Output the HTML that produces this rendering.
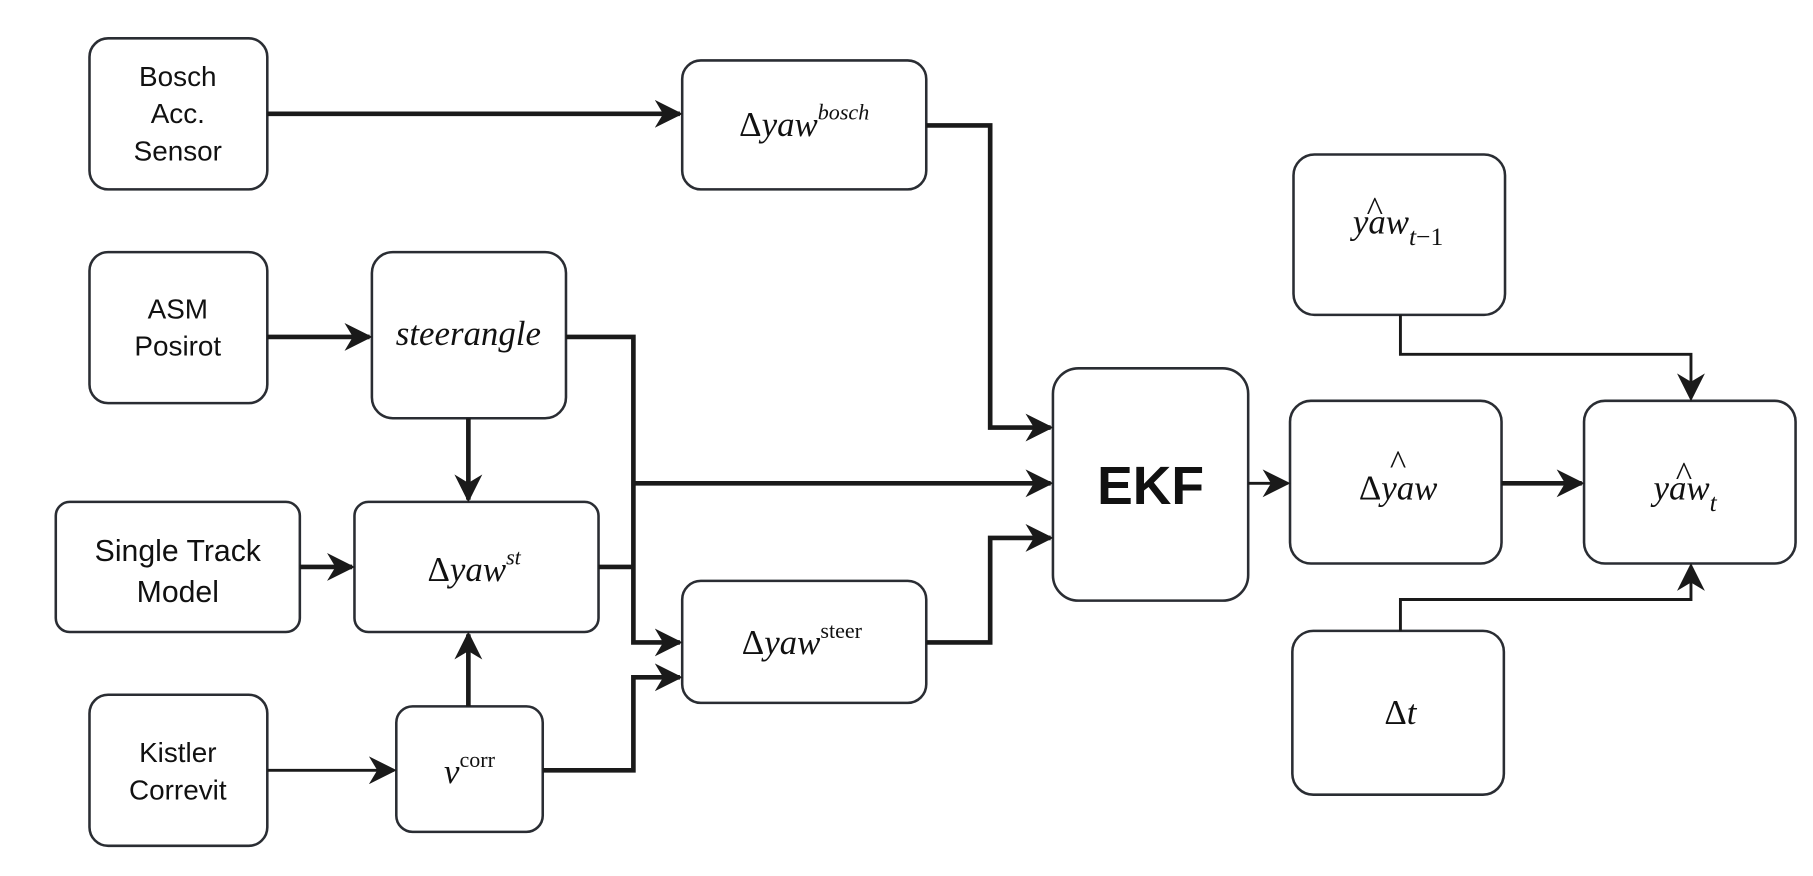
<!DOCTYPE html>
<html><head><meta charset="utf-8"><style>
html,body{margin:0;padding:0;background:#fff;}
svg{display:block}
.b{fill:#fff;stroke:#2a2d33;stroke-width:2.2}
.l{fill:none;stroke:#1a1a1a;stroke-width:4}
.t{fill:none;stroke:#1a1a1a;stroke-width:2.5}
.s{font-family:"Liberation Sans",sans-serif;font-size:24px;fill:#111;text-anchor:middle}
.m{font-family:"Liberation Serif",serif;font-size:30px;fill:#111;text-anchor:middle}
</style></head><body>
<svg width="1813" height="876" viewBox="0 0 1560 754" preserveAspectRatio="none" xmlns="http://www.w3.org/2000/svg">
<defs>
<marker id="a" viewBox="0 0 10 10" refX="9" refY="5" markerWidth="6" markerHeight="6" markerUnits="userSpaceOnUse" orient="auto"><path d="M0,0 L10,5 L0,10 L3,5z" fill="#1a1a1a"/></marker>
<marker id="A" viewBox="0 0 10 10" refX="9" refY="5" markerWidth="24" markerHeight="24" markerUnits="userSpaceOnUse" orient="auto"><path d="M0,0 L10,5 L0,10 L3,5z" fill="#1a1a1a"/></marker>
</defs>
<rect class="b" x="77" y="33" width="153" height="130" rx="16"/>
<rect class="b" x="587" y="52" width="210" height="111" rx="16"/>
<rect class="b" x="77" y="217" width="153" height="130" rx="16"/>
<rect class="b" x="320" y="217" width="167" height="143" rx="18"/>
<rect class="b" x="48" y="432" width="210" height="112" rx="12"/>
<rect class="b" x="305" y="432" width="210" height="112" rx="12"/>
<rect class="b" x="77" y="598" width="153" height="130" rx="16"/>
<rect class="b" x="341" y="608" width="126" height="108" rx="14"/>
<rect class="b" x="587" y="500" width="210" height="105" rx="16"/>
<rect class="b" x="906" y="317" width="168" height="200" rx="22"/>
<rect class="b" x="1110" y="345" width="182" height="140" rx="18"/>
<rect class="b" x="1113" y="133" width="182" height="138" rx="18"/>
<rect class="b" x="1363" y="345" width="182" height="140" rx="18"/>
<rect class="b" x="1112" y="543" width="182" height="141" rx="18"/>
<path class="l" d="M230,98 H585" marker-end="url(#A)"/>
<path class="l" d="M797,108 H852 V368 H904" marker-end="url(#A)"/>
<path class="l" d="M230,290 H318" marker-end="url(#A)"/>
<path class="l" d="M487,290 H545 V553 H585" marker-end="url(#A)"/>
<path class="l" d="M545,416 H904" marker-end="url(#A)"/>
<path class="l" d="M403,360 V430" marker-end="url(#A)"/>
<path class="l" d="M258,488 H303" marker-end="url(#A)"/>
<path class="l" d="M515,488 H545"/>
<path class="t" d="M230,663 H339" marker-end="url(#A)"/>
<path class="l" d="M403,608 V546" marker-end="url(#A)"/>
<path class="l" d="M467,663 H545 V583 H585" marker-end="url(#A)"/>
<path class="l" d="M797,553 H852 V463 H904" marker-end="url(#A)"/>
<path class="t" d="M1074,416 H1108" marker-end="url(#A)"/>
<path class="l" d="M1292,416 H1361" marker-end="url(#A)"/>
<path class="t" d="M1205,271 V305 H1455 V343" marker-end="url(#A)"/>
<path class="t" d="M1205,543 V516 H1455 V487" marker-end="url(#A)"/>
<text class="s" x="153" y="74">Bosch</text>
<text class="s" x="153" y="106">Acc.</text>
<text class="s" x="153" y="138">Sensor</text>
<text class="s" x="153" y="274">ASM</text>
<text class="s" x="153" y="306">Posirot</text>
<text class="s" x="153" y="483" style="font-size:26px">Single Track</text>
<text class="s" x="153" y="518" style="font-size:26px">Model</text>
<text class="s" x="153" y="656">Kistler</text>
<text class="s" x="153" y="688">Correvit</text>
<text class="m" x="692" y="117"><tspan>Δ</tspan><tspan font-style="italic">yaw</tspan><tspan font-style="italic" font-size="19" dy="-14">bosch</tspan></text>
<text class="m" x="403" y="297" font-style="italic" font-size="23">steerangle</text>
<text class="m" x="408" y="500"><tspan>Δ</tspan><tspan font-style="italic">yaw</tspan><tspan font-style="italic" font-size="19" dy="-14">st</tspan></text>
<text class="m" x="404" y="674"><tspan font-style="italic">v</tspan><tspan font-size="19" dy="-14">corr</tspan></text>
<text class="m" x="690" y="563"><tspan>Δ</tspan><tspan font-style="italic">yaw</tspan><tspan font-size="19" dy="-14">steer</tspan></text>
<text x="990" y="434" style="font-family:'Liberation Sans',sans-serif;font-weight:bold;font-size:46px;text-anchor:middle;fill:#111">EKF</text>
<text class="m" x="1203" y="430"><tspan>Δ</tspan><tspan font-style="italic">yaw</tspan></text>
<text class="m" x="1203" y="408" font-size="26">^</text>
<text class="m" x="1203" y="201"><tspan font-style="italic">yaw</tspan><tspan font-style="italic" font-size="22" dy="10">t</tspan><tspan font-size="22">−1</tspan></text>
<text class="m" x="1183" y="190" font-size="26">^</text>
<text class="m" x="1450" y="430"><tspan font-style="italic">yaw</tspan><tspan font-style="italic" font-size="22" dy="10">t</tspan></text>
<text class="m" x="1449" y="418" font-size="26">^</text>
<text class="m" x="1205" y="623"><tspan>Δ</tspan><tspan font-style="italic">t</tspan></text>
</svg>
</body></html>
